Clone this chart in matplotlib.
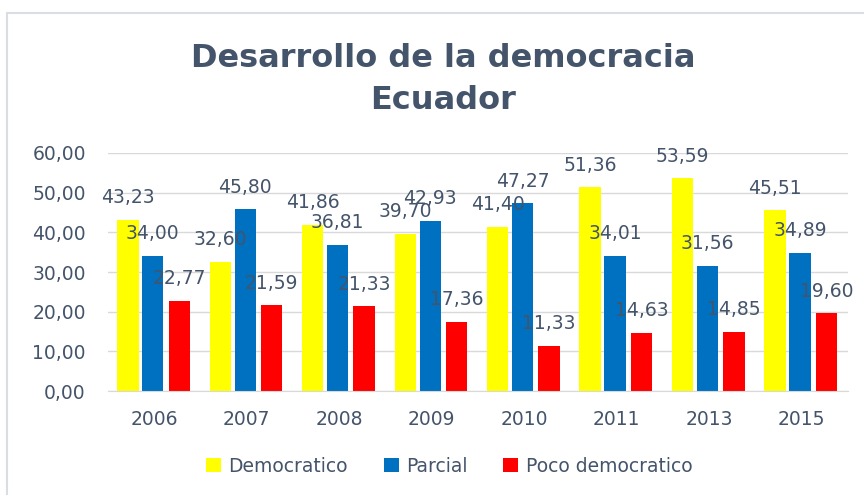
import numpy as np
import matplotlib.pyplot as plt
from matplotlib.patches import Rectangle

# data
years = ['2006', '2007', '2008', '2009', '2010', '2011', '2013', '2015']
democratico = [43.23, 32.60, 41.86, 39.70, 41.40, 51.36, 53.59, 45.51]
parcial = [34.00, 45.80, 36.81, 42.93, 47.27, 34.01, 31.56, 34.89]
poco = [22.77, 21.59, 21.33, 17.36, 11.33, 14.63, 14.85, 19.60]

series = [('Democratico', democratico, '#FFFF00'),
          ('Parcial', parcial, '#0070C0'),
          ('Poco democratico', poco, '#FF0000')]

txt = '#44546A'
plt.rcParams['font.family'] = ['DejaVu Sans']

fig = plt.figure(figsize=(8.64, 4.95), dpi=100)
ax = fig.add_axes([0.125, 0.21, 0.856, 0.481])

# light frame around the chart area
fig.patches.append(Rectangle((7 / 864, -0.1), 1.2, 1 - 13 / 495 + 0.1,
                             transform=fig.transFigure, fill=False,
                             edgecolor='#D9DEE4', linewidth=1.5))

x = np.arange(len(years))
width = 0.23
offsets = [-0.285, -0.015, 0.27]

for (name, vals, color), off in zip(series, offsets):
    bars = ax.bar(x + off, vals, width, color=color, label=name, zorder=2)
    for b, v in zip(bars, vals):
        ax.annotate(f'{v:.2f}'.replace('.', ','),
                    (b.get_x() + b.get_width() / 2, v),
                    xytext=(0, 16), textcoords='offset points',
                    ha='center', va='center', fontsize=13.5, color=txt,
                    zorder=3)

ax.set_xlim(-0.5, len(years) - 0.5)
ax.set_ylim(0, 60)
ax.set_yticks(np.arange(0, 61, 10))
ax.set_yticklabels([f'{t:.2f}'.replace('.', ',') for t in np.arange(0, 61, 10)])
ax.set_xticks(x)
ax.set_xticklabels(years)
ax.tick_params(axis='both', length=0, labelsize=13.5, labelcolor=txt)
ax.tick_params(axis='y', pad=16)
ax.tick_params(axis='x', pad=14)
ax.grid(axis='y', color='#D9D9D9', linewidth=1, zorder=0)
for s in ['top', 'right', 'left']:
    ax.spines[s].set_visible(False)
ax.spines['bottom'].set_color('#D9D9D9')

fig.text(0.513, 0.882, 'Desarrollo de la democracia', ha='center', va='center',
         fontsize=23, fontweight='bold', color=txt)
fig.text(0.513, 0.796, 'Ecuador', ha='center', va='center',
         fontsize=23, fontweight='bold', color=txt)

leg = fig.legend(loc='center', bbox_to_anchor=(0.52, 0.058), ncol=3,
                 frameon=False, fontsize=13.5, handlelength=0.8,
                 handleheight=0.8, handletextpad=0.4, columnspacing=1.9)
for t in leg.get_texts():
    t.set_color(txt)

fig.savefig('out.png', dpi=100)
